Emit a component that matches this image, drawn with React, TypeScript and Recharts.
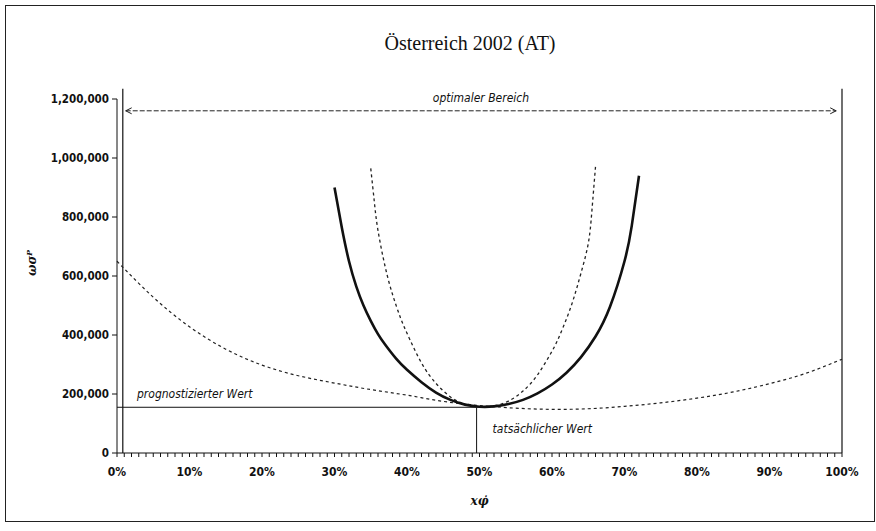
import React from "react";
import { LineChart, Line, XAxis, YAxis, ReferenceLine } from "recharts";

const title = "Österreich 2002 (AT)";

// x in percent, y in absolute values
const solidX = [30, 31, 32, 33, 34, 35, 36, 37, 38.5, 40, 42, 44, 46, 48, 50, 52, 54, 56, 58, 60, 62, 64, 66, 68, 70, 71, 72];
const solidY = [
  900000, 765000, 650000, 565000, 500000, 448000, 403000, 367000, 320000, 282000, 240000, 205000,
  180000, 164000, 157000, 158000, 166000, 180000, 202000, 232000, 272000, 325000, 395000, 496000,
  650000, 770000, 940000,
];

const steepX = [35, 35.5, 36, 37, 38, 39, 40, 42, 44, 46, 48, 50, 52, 54, 56, 58, 60, 61, 62, 63, 64, 65, 65.5, 66];
const steepY = [
  965000, 850000, 754000, 630000, 538000, 465000, 406000, 305000, 236000, 190000, 165000, 156000,
  160000, 176000, 210000, 265000, 345000, 395000, 455000, 525000, 610000, 710000, 820000, 970000,
];

const wideX = [0, 5, 10, 15, 20, 25, 30, 35, 40, 45, 50, 55, 60, 65, 70, 75, 80, 85, 90, 95, 100];
const wideY = [
  650000, 528000, 428000, 352000, 298000, 262000, 237000, 215000, 196000, 175000, 161000,
  152000, 148000, 150000, 158000, 170000, 186000, 207000, 235000, 270000, 318000,
];

const xTicks = [
  0, 1, 2, 3, 4, 5, 6, 7, 8, 9, 10, 11, 12, 13, 14, 15, 16, 17, 18, 19, 20, 21, 22, 23, 24, 25,
  26, 27, 28, 29, 30, 31, 32, 33, 34, 35, 36, 37, 38, 39, 40, 41, 42, 43, 44, 45, 46, 47, 48, 49,
  50, 51, 52, 53, 54, 55, 56, 57, 58, 59, 60, 61, 62, 63, 64, 65, 66, 67, 68, 69, 70, 71, 72, 73,
  74, 75, 76, 77, 78, 79, 80, 81, 82, 83, 84, 85, 86, 87, 88, 89, 90, 91, 92, 93, 94, 95, 96, 97,
  98, 99, 100,
];
const yTicks = [0, 200000, 400000, 600000, 800000, 1000000, 1200000];

const predicted = 155000;
const actualShare = 49.6;
const rangeFrom = 0.8;
const rangeTo = 100;
const rangeTop = 1235000;
const arrowLevel = 1160000;
const arrowFrom = 1.2;
const arrowTo = 99.2;

const allX = Array.from(new Set([...solidX, ...steepX, ...wideX])).sort((a, b) => a - b);
const data = allX.map((x) => {
  const row: any = { x };
  const i = solidX.indexOf(x);
  if (i >= 0) row.solid = solidY[i];
  const j = steepX.indexOf(x);
  if (j >= 0) row.steep = steepY[j];
  const k = wideX.indexOf(x);
  if (k >= 0) row.wide = wideY[k];
  return row;
});

const sans = "'DejaVu Sans Condensed', 'DejaVu Sans', sans-serif";

const Note = (props: any) => {
  const { viewBox, text, dx = 0, dy = 0, center = false } = props;
  if (!viewBox) return null;
  const x = (center ? viewBox.x + viewBox.width / 2 : viewBox.x) + dx;
  return (
    <text
      x={x}
      y={viewBox.y + dy}
      textAnchor={center ? "middle" : "start"}
      fontStyle="italic"
      fontSize={12}
      fontFamily={sans}
      fill="#111"
    >
      {text}
    </text>
  );
};

const ArrowLine = (props: any) => {
  const { x1, y1, x2, y2 } = props;
  return (
    <g>
      <line x1={x1} y1={y1} x2={x2} y2={y2} stroke="#222" strokeWidth={1} strokeDasharray="5 2" />
      <path d={`M${x1 + 6},${y1 - 3}L${x1},${y1}L${x1 + 6},${y1 + 3}`} fill="none" stroke="#222" />
      <path d={`M${x2 - 6},${y2 - 3}L${x2},${y2}L${x2 - 6},${y2 + 3}`} fill="none" stroke="#222" />
    </g>
  );
};

const App: React.FC = () => {
  return (
    <div style={{ position: "absolute", left: 0, top: 0, width: 876, height: 531, background: "#fff" }}>
      <div
        style={{
          position: "absolute",
          left: 5,
          top: 5,
          width: 868,
          height: 515,
          border: "1px solid #222",
        }}
      />
      <div
        style={{
          position: "absolute",
          left: 0,
          top: 32,
          width: 940,
          textAlign: "center",
          fontFamily: "'Liberation Serif', serif",
          fontSize: 20,
          color: "#111",
        }}
      >
        {title}
      </div>
      <div style={{ position: "absolute", left: 0, top: 0 }}>
        <LineChart
          width={876}
          height={531}
          data={data}
          margin={{ top: 99, right: 34, left: 20, bottom: 18 }}
        >
          <XAxis
            dataKey="x"
            type="number"
            domain={[0, 100]}
            ticks={xTicks}
            interval={0}
            tickFormatter={(v: number) => (v % 10 === 0 ? `${v}%` : "")}
            tickSize={4}
            tickMargin={10}
            height={60}
            axisLine={{ stroke: "#111" }}
            tickLine={{ stroke: "#111" }}
            tick={{ fontSize: 12, fontWeight: 700, fill: "#111", fontFamily: sans }}
            label={{
              value: "xφ̇",
              position: "insideBottom",
              offset: 8,
              fontSize: 12,
              fontWeight: 700,
              fontStyle: "italic",
              fill: "#111",
              fontFamily: "'DejaVu Serif', serif",
            }}
          />
          <YAxis
            type="number"
            domain={[0, 1200000]}
            ticks={yTicks}
            width={97}
            tickSize={5}
            tickMargin={3}
            axisLine={{ stroke: "#111" }}
            tickLine={{ stroke: "#111" }}
            tickFormatter={(v: number) => v.toLocaleString("en-US")}
            tick={{ fontSize: 11.5, fontWeight: 700, fill: "#111", fontFamily: sans }}
            label={{
              value: "ωσᴾ",
              angle: -90,
              position: "insideLeft",
              offset: 12,
              fontSize: 12,
              fontWeight: 700,
              fontStyle: "italic",
              fill: "#111",
              fontFamily: "'DejaVu Serif', serif",
            }}
          />
          <ReferenceLine
            segment={[
              { x: rangeFrom, y: 0 },
              { x: rangeFrom, y: rangeTop },
            ]}
            stroke="#111"
            strokeWidth={1.2}
            ifOverflow="visible"
          />
          <ReferenceLine
            segment={[
              { x: rangeTo, y: 0 },
              { x: rangeTo, y: rangeTop },
            ]}
            stroke="#111"
            strokeWidth={1.2}
            ifOverflow="visible"
          />
          <ReferenceLine
            segment={[
              { x: arrowFrom, y: arrowLevel },
              { x: arrowTo, y: arrowLevel },
            ]}
            shape={ArrowLine}
            ifOverflow="visible"
            label={<Note text="optimaler Bereich" center dy={-9} />}
          />
          <ReferenceLine
            segment={[
              { x: 0, y: predicted },
              { x: actualShare, y: predicted },
            ]}
            stroke="#111"
            strokeWidth={1}
            label={<Note text="prognostizierter Wert" dx={20} dy={-9} />}
          />
          <ReferenceLine
            segment={[
              { x: actualShare, y: 0 },
              { x: actualShare, y: predicted },
            ]}
            stroke="#111"
            strokeWidth={1}
            label={<Note text="tatsächlicher Wert" dx={16} dy={26} />}
          />
          <Line
            type="natural"
            dataKey="wide"
            stroke="#222"
            strokeWidth={1.2}
            strokeDasharray="3 3"
            dot={false}
            connectNulls
            isAnimationActive={false}
          />
          <Line
            type="natural"
            dataKey="steep"
            stroke="#222"
            strokeWidth={1.3}
            strokeDasharray="3 3"
            dot={false}
            connectNulls
            isAnimationActive={false}
          />
          <Line
            type="natural"
            dataKey="solid"
            stroke="#111"
            strokeWidth={2.6}
            dot={false}
            connectNulls
            isAnimationActive={false}
          />
        </LineChart>
      </div>
    </div>
  );
};

export default App;
